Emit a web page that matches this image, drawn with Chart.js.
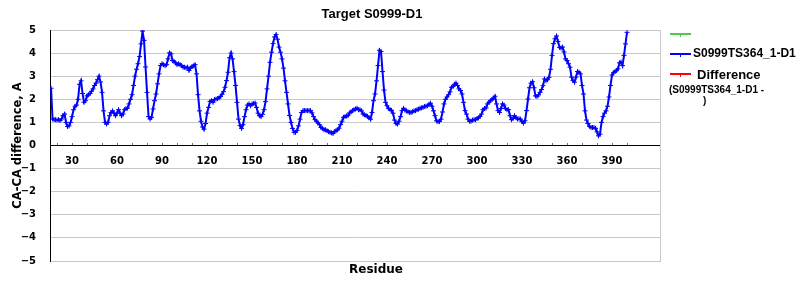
<!DOCTYPE html>
<html>
<head>
<meta charset="utf-8">
<script src="https://cdn.jsdelivr.net/npm/chart.js@4.4.1/dist/chart.umd.min.js"></script>
<style>
    html, body { margin: 0; padding: 0; background: #fff; }
    #wrap { width: 800px; height: 300px; }
</style>
</head>
<body>
<div id="wrap"><canvas id="chart" width="800" height="300"></canvas></div>
<script>
const chartTitle = 'Target S0999-D1';
const xTitle = 'Residue';
const yTitle = 'CA-CA difference, A';

// CA-CA difference per residue, starting at residue 16
const firstResidue = 16;
const modelValues = [
    2.48, 1.15, 1.12, 1.12, 1.10, 1.12, 1.08, 1.15, 1.30, 1.36,
    1.00, 0.82, 0.85, 1.00, 1.25, 1.55, 1.70, 1.75, 2.00, 2.65,
    2.80, 2.25, 1.87, 1.94, 2.15, 2.20, 2.25, 2.35, 2.45, 2.60,
    2.70, 2.85, 3.00, 2.75, 2.30, 1.50, 1.00, 0.93, 1.00, 1.29,
    1.43, 1.50, 1.40, 1.29, 1.40, 1.55, 1.40, 1.29, 1.36, 1.55,
    1.60, 1.62, 1.80, 2.00, 2.20, 2.60, 3.00, 3.30, 3.54, 3.85,
    4.40, 4.95, 4.55, 3.40, 2.30, 1.25, 1.15, 1.22, 1.58, 1.94,
    2.23, 2.67, 3.10, 3.46, 3.54, 3.50, 3.46, 3.50, 3.75, 4.01,
    3.97, 3.68, 3.64, 3.58, 3.50, 3.54, 3.50, 3.46, 3.39, 3.39,
    3.36, 3.39, 3.25, 3.35, 3.42, 3.45, 3.50, 3.10, 2.20, 1.50,
    1.05, 0.80, 0.71, 0.95, 1.40, 1.65, 1.91, 1.94, 1.87, 1.99,
    2.01, 2.03, 2.06, 2.12, 2.22, 2.33, 2.52, 2.81, 3.17, 3.80,
    4.00, 3.75, 3.20, 2.60, 1.87, 1.14, 0.86, 0.74, 0.90, 1.25,
    1.55, 1.75, 1.80, 1.72, 1.80, 1.82, 1.84, 1.65, 1.40, 1.29,
    1.25, 1.35, 1.55, 1.90, 2.45, 3.00, 3.60, 4.04, 4.41, 4.70,
    4.80, 4.60, 4.26, 4.04, 3.75, 3.35, 2.80, 2.30, 1.80, 1.30,
    1.00, 0.74, 0.57, 0.57, 0.65, 0.85, 1.14, 1.43, 1.51, 1.51,
    1.51, 1.51, 1.51, 1.51, 1.41, 1.25, 1.12, 1.05, 0.98, 0.90,
    0.78, 0.74, 0.68, 0.68, 0.64, 0.60, 0.57, 0.55, 0.52, 0.60,
    0.64, 0.68, 0.75, 0.90, 1.05, 1.22, 1.25, 1.28, 1.29, 1.41,
    1.45, 1.51, 1.55, 1.58, 1.61, 1.55, 1.55, 1.50, 1.36, 1.33,
    1.30, 1.26, 1.20, 1.14, 1.43, 1.94, 2.23, 2.80, 3.46, 4.12,
    4.07, 3.20, 2.40, 1.87, 1.72, 1.61, 1.55, 1.52, 1.40, 1.10,
    0.95, 0.93, 1.05, 1.25, 1.51, 1.61, 1.53, 1.50, 1.46, 1.43,
    1.43, 1.46, 1.50, 1.51, 1.55, 1.57, 1.61, 1.63, 1.65, 1.69,
    1.70, 1.72, 1.78, 1.83, 1.70, 1.50, 1.29, 1.07, 1.03, 1.04,
    1.14, 1.45, 1.80, 2.00, 2.10, 2.20, 2.32, 2.52, 2.55, 2.65,
    2.70, 2.60, 2.45, 2.38, 2.23, 1.87, 1.51, 1.36, 1.14, 1.05,
    1.05, 1.10, 1.12, 1.12, 1.17, 1.20, 1.26, 1.36, 1.55, 1.60,
    1.62, 1.80, 1.87, 1.94, 2.00, 2.05, 2.13, 1.80, 1.51, 1.43,
    1.60, 1.80, 1.75, 1.60, 1.55, 1.55, 1.29, 1.12, 1.17, 1.29,
    1.20, 1.15, 1.16, 1.14, 1.03, 0.97, 1.07, 1.51, 2.01, 2.50,
    2.70, 2.76, 2.50, 2.15, 2.12, 2.19, 2.30, 2.42, 2.59, 2.88,
    2.81, 2.85, 2.95, 3.30, 3.90, 4.41, 4.62, 4.74, 4.50, 4.25,
    4.22, 4.26, 4.05, 3.75, 3.68, 3.54, 3.39, 2.96, 2.81, 2.74,
    2.96, 3.20, 3.17, 3.10, 2.60, 2.23, 1.50, 1.10, 0.95, 0.83,
    0.78, 0.78, 0.78, 0.74, 0.59, 0.42, 0.49, 1.00, 1.25, 1.40,
    1.50, 1.70, 2.10, 2.60, 3.05, 3.15, 3.20, 3.25, 3.32, 3.58,
    3.61, 3.46, 3.90, 4.40, 4.90
];
// the other two series have no points in the picture
const targetValues = [];
const differenceValues = [];

const seriesLabels = ['', 'S0999TS364_1-D1', 'Difference (S0999TS364_1-D1 - )'];
const seriesColors = ['#50c850', '#0000ff', '#ff0000'];

const xTickValues = [20, 30, 40, 50, 60, 70, 80, 90, 100, 110, 120, 130, 140, 150, 160,
    170, 180, 190, 200, 210, 220, 230, 240, 250, 260, 270, 280, 290, 300, 310, 320,
    330, 340, 350, 360, 370, 380, 390, 400];
const yTickValues = [-5, -4, -3, -2, -1, 0, 1, 2, 3, 4, 5];

const toPoints = (values) => values.map((v, i) => ({ x: firstResidue + i, y: v }));

const tickFont = { family: 'DejaVu Sans', size: 10, weight: 'bold' };

// title, x label and legend are drawn by hand to sit where the original puts them
const textPlugin = {
    id: 'chartTexts',
    afterDraw(chart) {
        const c = chart.ctx;
        const area = chart.chartArea;
        c.save();
        c.fillStyle = '#000';
        c.textBaseline = 'middle';

        c.textAlign = 'center';
        c.font = 'bold 13px "Liberation Sans"';
        c.fillText(chartTitle, 372, 14);
        c.font = 'bold 12px "DejaVu Sans"';
        c.fillText(xTitle, 376, 270);

        const lx = area.right + 10;
        const rows = [34, 54, 74];
        chart.data.datasets.forEach((ds, i) => {
            const y = rows[i];
            c.strokeStyle = ds.borderColor;
            c.lineWidth = 2;
            c.beginPath();
            c.moveTo(lx, y);
            c.lineTo(lx + 21, y);
            c.stroke();
            c.lineWidth = 1;
            c.beginPath();
            c.moveTo(lx + 10.5, y);
            c.lineTo(lx + 10.5, y + 3);
            c.stroke();
        });

        c.textAlign = 'left';
        c.font = 'bold 12px "Liberation Sans"';
        c.fillText(chart.data.datasets[1].label, lx + 23, rows[1]);

        const diffLabel = chart.data.datasets[2].label;
        const cut = diffLabel.indexOf(' (');
        const sub = diffLabel.slice(cut + 1);
        const brk = sub.lastIndexOf(' ');
        c.font = 'bold 13px "Liberation Sans"';
        c.fillText(diffLabel.slice(0, cut), lx + 27, rows[2] + 1);
        c.font = 'bold 10px "Liberation Sans"';
        c.fillText(sub.slice(0, brk), lx - 1, rows[2] + 16);
        c.fillText(sub.slice(brk + 1), lx + 33, rows[2] + 27);
        c.restore();
    }
};

const ctx = document.getElementById('chart').getContext('2d');

const chart = new Chart(ctx, {
    type: 'line',
    data: {
        datasets: [
            {
                label: seriesLabels[0],
                data: toPoints(targetValues),
                borderColor: seriesColors[0],
                backgroundColor: seriesColors[0],
                borderWidth: 2,
                pointRadius: 0
            },
            {
                label: seriesLabels[1],
                data: toPoints(modelValues),
                borderColor: seriesColors[1],
                backgroundColor: seriesColors[1],
                borderWidth: 2,
                tension: 0,
                pointStyle: 'cross',
                pointRadius: 2.5,
                pointBorderWidth: 1
            },
            {
                label: seriesLabels[2],
                data: toPoints(differenceValues),
                borderColor: seriesColors[2],
                backgroundColor: seriesColors[2],
                borderWidth: 2,
                pointRadius: 0
            }
        ]
    },
    options: {
        responsive: false,
        animation: false,
        layout: { padding: { top: 30, right: 140, bottom: 39, left: 0 } },
        plugins: {
            legend: { display: false },
            title: { display: false },
            tooltip: { enabled: false }
        },
        scales: {
            x: {
                type: 'linear',
                min: 15.3,
                max: 422,
                position: { y: 0 },
                afterBuildTicks: (scale) => {
                    scale.ticks = xTickValues.map(v => ({ value: v }));
                },
                grid: {
                    drawOnChartArea: false,
                    drawTicks: true,
                    tickLength: -3,
                    color: '#707070'
                },
                border: { color: '#000', width: 1 },
                ticks: {
                    autoSkip: false,
                    maxRotation: 0,
                    padding: 13,
                    color: '#000',
                    font: tickFont,
                    callback: (v) => (v % 30 === 0 ? String(v) : '')
                }
            },
            y: {
                type: 'linear',
                min: -5,
                max: 5,
                afterBuildTicks: (scale) => {
                    scale.ticks = yTickValues.map(v => ({ value: v }));
                },
                afterFit: (scale) => { scale.width = 50; },
                grid: {
                    drawTicks: false,
                    color: (c) => (c.tick && c.tick.value === 0 ? 'rgba(0,0,0,0)' : '#c8c8c8')
                },
                border: { color: '#000', width: 1 },
                ticks: {
                    padding: 14,
                    color: '#000',
                    font: tickFont,
                    callback: (v) => (v < 0 ? '\u2212' + (-v) : String(v))
                },
                title: {
                    display: true,
                    text: yTitle,
                    color: '#000',
                    font: { family: 'DejaVu Sans', size: 11.5, weight: 'bold' },
                    padding: { top: 11, bottom: 0 }
                }
            },
            yRight: {
                type: 'linear',
                position: 'right',
                min: -5,
                max: 5,
                afterFit: (scale) => { scale.width = 0; },
                grid: { display: false, drawTicks: false },
                ticks: { display: false },
                border: { display: true, color: '#c8c8c8', width: 1 }
            }
        }
    },
    plugins: [textPlugin]
});
</script>
</body>
</html>
